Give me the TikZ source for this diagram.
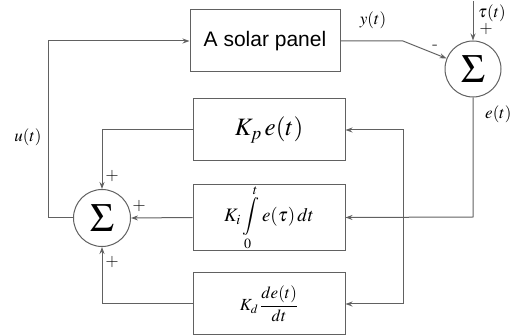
\documentclass[tikz,border=0pt]{standalone}
\usepackage{mathptmx}
\usepackage{fontspec}
\newfontfamily\arialf{Liberation Sans}
\usetikzlibrary{arrows.meta}
\tikzset{
  ln/.style={draw=black!62, line width=1pt},
  arr/.style={ln, -{Stealth[length=7pt,width=5pt]}},
  blk/.style={draw=black!62, line width=1pt, minimum width=152pt, minimum height=62pt, inner sep=0pt},
  sumc/.style={draw=black!62, line width=1pt, circle, minimum size=57pt, inner sep=0pt, font=\fontsize{40}{44}\selectfont},
  lbl/.style={inner sep=0pt, font=\fontsize{17}{20}\selectfont},
  sgn/.style={inner sep=0pt, font=\fontsize{18}{18}\selectfont}
}
\begin{document}
\begin{tikzpicture}[x=1pt,y=-1pt]
\useasboundingbox (0,0) rectangle (511,336);
\node[blk, minimum width=150pt] (sp) at (265,41) {\arialf\fontsize{21}{24}\selectfont A solar panel};
\node[blk] (Kp) at (269,130) {\fontsize{25}{28}\selectfont $K_p\, e(t)$};
\node[blk] (Ki) at (269,217.5) {\fontsize{19}{22}\selectfont $\displaystyle K_i\int\limits_0^t e(\tau)\,dt$};
\node[blk] (Kd) at (269,304) {\fontsize{17}{20}\selectfont $K_d\,\displaystyle\frac{de(t)}{dt}$};
\node[sumc] (S1) at (102,218) {$\Sigma$};
\node[sumc, minimum size=56pt] (S2) at (473,69) {$\Sigma$};
\coordinate (tauin) at (473,1);
\coordinate (yb) at (403,41);
\coordinate (eb) at (473,217);
\coordinate (db) at (403,217);
\coordinate (ub) at (48,218);
% connectors
\draw[arr] (S1.west) -- (ub) |- (sp.west);
\draw[arr] (sp.east) -- (yb) -- (S2);
\draw[arr] (tauin) -- (S2.north);
\draw[arr] (S2.south) -- (eb) -- (Ki.east);
\draw[arr] (db) |- (Kp.east);
\draw[arr] (db) |- (Kd.east);
\draw[arr] (Kp.west) -| (S1.north);
\draw[arr] (Ki.west) -- (S1.east);
\draw[arr] (Kd.west) -| (S1.south);
% labels
\node[lbl] (ly) at (373,20) {$y(t)$};
\node[sgn] (lm) at (435,47) {-};
\node[lbl, anchor=west] (ltau) at (478,13) {$\tau(t)$};
\node[sgn] (lp0) at (486,29) {+};
\node[lbl, anchor=west] (le) at (485,114) {$e(t)$};
\node[lbl] (lu) at (28,137) {$u(t)$};
\node[sgn] (lp1) at (112,176) {+};
\node[sgn] (lp2) at (139,206) {+};
\node[sgn] (lp3) at (112,262) {+};
\end{tikzpicture}
\end{document}
